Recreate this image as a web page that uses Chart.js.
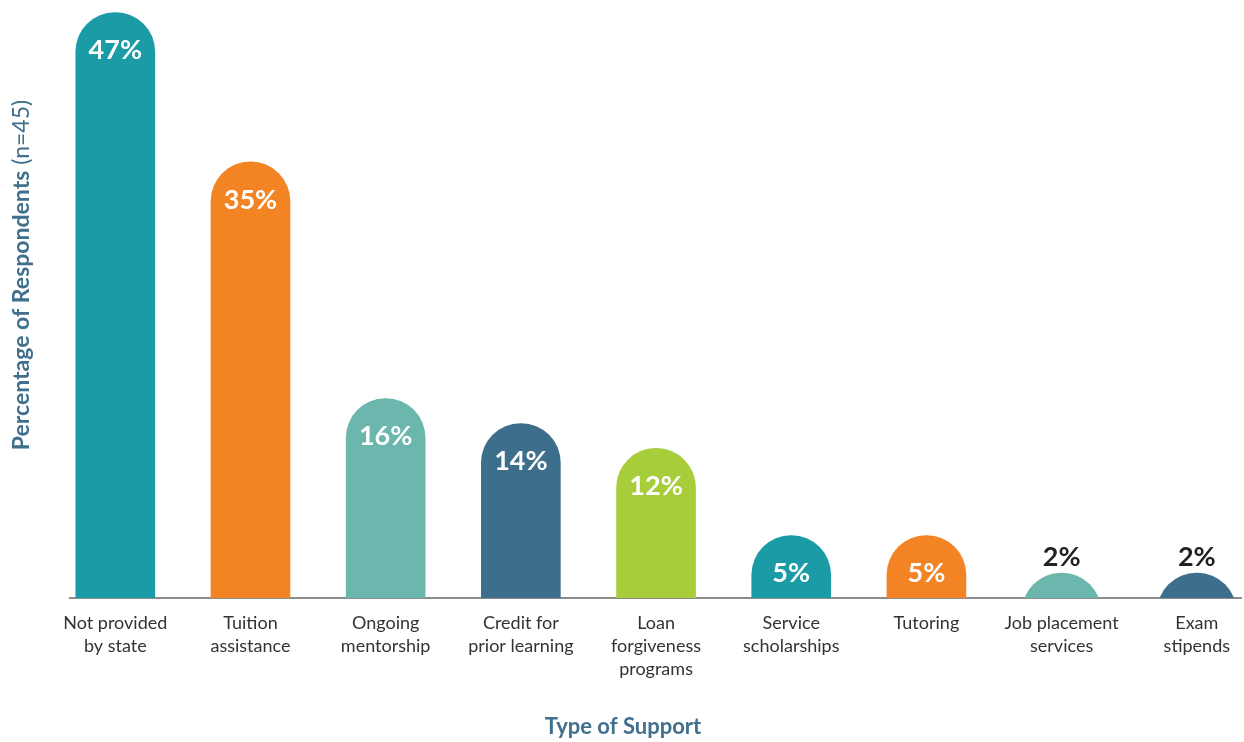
<!DOCTYPE html>
<html>
<head>
<meta charset="utf-8">
<script src="https://cdn.jsdelivr.net/npm/chart.js@4/dist/chart.umd.min.js"></script>
<style>
  html, body { margin: 0; padding: 0; background: #fff; overflow: hidden; }
  canvas { display: block; }
</style>
</head>
<body>
<canvas id="supportChart" width="1244" height="742"></canvas>
<script>
// categories, one array per tick label (multi-line)
const categories = [
  ['Not provided', 'by state'],
  ['Tuition', 'assistance'],
  ['Ongoing', 'mentorship'],
  ['Credit for', 'prior learning'],
  ['Loan', 'forgiveness', 'programs'],
  ['Service', 'scholarships'],
  ['Tutoring'],
  ['Job placement', 'services'],
  ['Exam', 'stipends']
];
const percents = [47, 35, 16, 14, 12, 5, 5, 2, 2];
const barColors = ['#1a9ba6', '#f38424', '#6bb6ad', '#3d6e8b', '#a7ce3a', '#1a9ba6', '#f38424', '#6bb6ad', '#3d6e8b'];

const titleColor = '#41708d';

// value labels: inside the cap for tall bars, above for tiny ones
const valueLabels = {
  id: 'valueLabels',
  afterDatasetsDraw(chart) {
    const ctx = chart.ctx;
    const meta = chart.getDatasetMeta(0);
    ctx.save();
    ctx.textAlign = 'center';
    ctx.textBaseline = 'middle';
    ctx.font = 'bold 27px Lato';
    meta.data.forEach((bar, i) => {
      const v = percents[i];
      if (v >= 5) {
        ctx.fillStyle = '#ffffff';
        ctx.fillText(v + '%', bar.x, bar.y + 38);
      } else {
        ctx.fillStyle = '#222222';
        ctx.fillText(v + '%', bar.x, bar.y - 16);
      }
    });
    ctx.restore();
  }
};

// axis titles (y title mixes bold + regular text)
const axisTitles = {
  id: 'axisTitles',
  afterDraw(chart) {
    const ctx = chart.ctx;
    ctx.save();
    ctx.fillStyle = titleColor;
    ctx.textBaseline = 'middle';

    ctx.textAlign = 'center';
    ctx.font = 'bold 22px Lato';
    ctx.fillText('Type of Support', 623, 727);

    ctx.translate(22, 275);
    ctx.rotate(-Math.PI / 2);
    const boldPart = 'Percentage of Respondents';
    const lightPart = ' (n=45)';
    ctx.font = 'bold 23px Lato';
    const w1 = ctx.measureText(boldPart).width;
    ctx.font = '400 23px Lato';
    const w2 = ctx.measureText(lightPart).width;
    let x = -(w1 + w2) / 2;
    ctx.textAlign = 'left';
    ctx.font = 'bold 23px Lato';
    ctx.fillText(boldPart, x, 0);
    ctx.font = '400 23px Lato';
    ctx.fillText(lightPart, x + w1, 0);
    ctx.restore();
  }
};

new Chart(document.getElementById('supportChart'), {
  type: 'bar',
  data: {
    datasets: [{
      data: percents.map((v, i) => ({ x: i, y: v })),
      backgroundColor: barColors,
      borderRadius: 40,
      borderSkipped: 'start',
      barThickness: 79,
      base: -6,
      clip: 0
    }]
  },
  options: {
    responsive: false,
    animation: false,
    layout: { padding: { left: 70, right: 0, top: 0, bottom: 47 } },
    plugins: {
      legend: { display: false },
      tooltip: { enabled: false }
    },
    scales: {
      x: {
        type: 'linear',
        offset: false,
        min: -0.335,
        max: 8.33,
        grid: { display: false, drawTicks: false, offset: false },
        border: { display: true, color: '#8c8c8c', width: 2 },
        afterBuildTicks(scale) {
          scale.ticks = categories.map((c, i) => ({ value: i }));
        },
        ticks: {
          autoSkip: false,
          maxRotation: 0,
          padding: 14,
          color: '#333333',
          font: { family: 'Lato', size: 18, lineHeight: 1.28 },
          callback: (value) => categories[value]
        }
      },
      y: {
        display: false,
        min: 0,
        max: 48
      }
    }
  },
  plugins: [valueLabels, axisTitles]
});
</script>
</body>
</html>
